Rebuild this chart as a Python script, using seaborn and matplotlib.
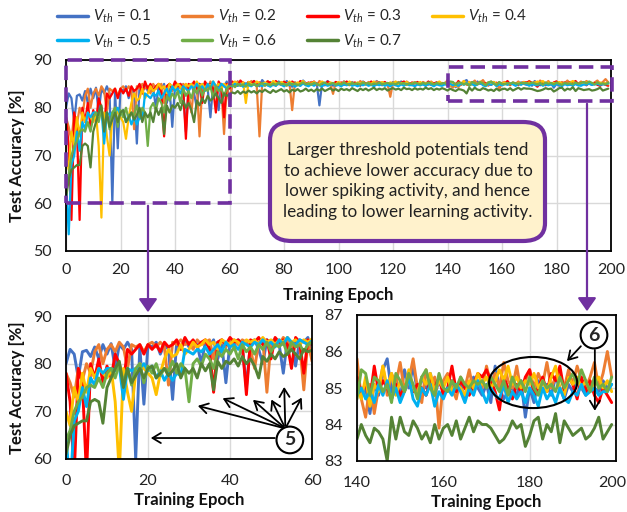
import matplotlib
matplotlib.use("Agg")
import matplotlib.pyplot as plt
import matplotlib.transforms as mtransforms
import seaborn as sns
import pandas as pd
import numpy as np
from matplotlib.patches import Rectangle, FancyBboxPatch, FancyArrowPatch, Ellipse

# ---------------- data ----------------
epochs = list(range(200))
thresholds = ["0.1", "0.2", "0.3", "0.4", "0.5", "0.6", "0.7"]
colors = ["#4472C4", "#ED7D31", "#FF0000", "#FFC000", "#00B0F0", "#70AD47", "#548235"]

v01 = [80.0, 83.0, 82.0, 77.0, 82.5, 82.8, 81.5, 83.5, 81.0, 84.0,
       82.0, 84.2, 79.0, 84.0, 83.0, 84.5, 83.0, 60.0, 83.5, 71.5,
       84.0, 83.5, 84.5, 82.0, 84.0, 83.0, 72.5, 84.5, 83.0, 85.0,
       83.5, 84.5, 84.0, 80.0, 84.5, 83.5, 85.0, 81.0, 84.0, 76.0,
       84.5, 84.0, 85.0, 83.5, 75.0, 84.5, 85.0, 83.0, 80.0, 85.0,
       84.5, 85.2, 84.0, 78.0, 85.0, 84.5, 79.5, 85.0, 84.5, 85.5,
       81.0, 85.0, 84.5, 85.5, 84.8, 85.2, 84.6, 85.4, 84.9, 85.6,
       85.0, 84.5, 85.8, 85.1, 84.7, 85.4, 85.0, 84.6, 85.5, 85.2,
       84.8, 85.6, 85.0, 84.4, 85.3, 85.0, 84.7, 85.7, 85.1, 84.9,
       85.4, 84.8, 85.2, 80.5, 85.3, 84.9, 85.6, 85.0, 84.6, 85.3,
       85.0, 84.7, 85.5, 85.1, 84.8, 85.4, 84.9, 85.2, 84.6, 85.5,
       85.0, 84.8, 85.3, 84.9, 85.6, 85.1, 84.7, 85.2, 85.0, 84.8,
       85.4, 84.9, 85.1, 85.5, 84.8, 85.2, 85.0, 84.7, 85.3, 84.9,
       85.2, 85.0, 84.6, 85.4, 85.1, 84.9, 85.3, 85.0, 84.8, 85.2,
       85.2, 84.8, 85.0, 84.3, 85.1, 84.8, 85.5, 85.8, 84.9, 85.3,
       84.7, 85.5, 85.0, 85.6, 84.9, 85.3, 85.0, 85.4, 84.8, 85.2,
       84.9, 85.0, 85.2, 84.9, 85.1, 84.7, 85.0, 85.3, 85.0, 84.8,
       85.1, 84.6, 85.6, 85.0, 84.7, 84.9, 85.0, 84.8, 85.2, 84.2,
       85.0, 84.6, 85.2, 84.9, 85.1, 84.8, 85.3, 85.0, 84.7, 85.1,
       84.9, 85.2, 85.0, 84.8, 85.1, 85.0, 84.9, 85.2, 85.0, 85.1]

v02 = [78.0, 76.0, 73.0, 79.0, 76.5, 80.0, 78.0, 82.5, 84.0, 80.0,
       83.0, 84.0, 82.5, 84.5, 83.5, 79.0, 84.0, 83.5, 84.0, 82.5,
       84.0, 84.5, 83.5, 84.5, 83.5, 75.5, 84.5, 84.0, 85.0, 84.0,
       84.5, 83.0, 85.0, 84.0, 84.5, 85.0, 81.0, 84.5, 85.0, 83.5,
       84.5, 85.0, 84.0, 85.0, 84.5, 83.0, 79.0, 84.5, 85.0, 74.0,
       84.5, 85.0, 84.0, 85.5, 84.5, 83.5, 85.0, 84.0, 74.5, 85.0,
       80.5, 85.2, 84.8, 85.5, 84.6, 85.3, 85.0, 84.7, 85.6, 85.1,
       84.5, 74.0, 85.2, 84.9, 85.6, 85.0, 84.7, 85.4, 85.1, 84.8,
       85.5, 84.9, 85.2, 79.5, 85.3, 85.0, 84.6, 85.5, 85.1, 84.8,
       85.4, 85.0, 84.7, 85.6, 85.2, 84.9, 85.3, 85.0, 82.9, 85.4,
       85.1, 84.8, 85.5, 85.0, 84.7, 85.3, 85.1, 84.9, 85.6, 85.0,
       84.8, 85.4, 85.0, 84.7, 85.5, 85.2, 84.9, 85.1, 85.0, 82.3,
       85.3, 84.9, 85.4, 85.0, 84.8, 85.5, 85.1, 84.9, 85.3, 85.0,
       84.7, 85.4, 85.1, 84.8, 85.5, 85.0, 84.9, 85.3, 85.1, 85.0,
       85.8, 84.7, 84.2, 85.1, 84.3, 85.0, 85.6, 84.8, 85.4, 85.1,
       85.7, 84.9, 85.2, 85.8, 85.0, 84.6, 85.5, 85.0, 85.3, 83.9,
       85.2, 85.4, 85.0, 84.7, 85.3, 85.0, 85.5, 84.9, 85.2, 85.0,
       85.6, 85.1, 85.4, 85.0, 85.7, 85.2, 85.0, 85.6, 84.9, 85.2,
       85.5, 85.0, 85.4, 85.1, 85.7, 85.0, 85.3, 85.4, 85.0, 85.5,
       85.1, 85.6, 85.2, 85.0, 85.3, 85.7, 85.0, 85.4, 86.0, 85.3]

v03 = [78.0, 72.0, 56.5, 79.0, 76.0, 56.5, 80.0, 77.0, 81.0, 76.0,
       79.5, 77.0, 82.0, 80.0, 76.0, 83.0, 82.0, 83.0, 84.0, 82.0,
       84.0, 83.0, 84.0, 82.5, 84.5, 83.5, 84.0, 85.0, 83.0, 85.5,
       84.0, 85.0, 83.5, 84.5, 85.0, 83.0, 74.0, 84.5, 85.0, 84.0,
       85.5, 84.5, 85.0, 84.0, 73.5, 85.0, 84.5, 85.5, 84.0, 85.0,
       81.0, 85.5, 84.5, 85.0, 84.0, 79.0, 85.5, 84.5, 78.0, 85.0,
       84.0, 85.5, 85.0, 84.6, 85.7, 85.1, 84.8, 85.4, 85.0, 85.6,
       84.9, 85.3, 85.0, 84.7, 85.5, 85.2, 84.8, 85.6, 85.0, 84.9,
       85.4, 85.1, 84.7, 85.5, 85.0, 84.8, 85.6, 85.2, 84.9, 85.3,
       85.0, 85.5, 84.8, 85.2, 85.0, 84.7, 85.5, 85.1, 84.9, 85.4,
       85.0, 85.3, 84.8, 85.5, 85.1, 84.9, 85.3, 85.0, 84.7, 85.4,
       85.1, 84.9, 85.5, 85.0, 84.8, 85.3, 85.1, 85.4, 84.9, 85.2,
       85.0, 85.4, 84.8, 85.2, 85.5, 85.0, 84.9, 85.3, 85.1, 85.4,
       84.9, 85.2, 85.0, 85.5, 84.8, 85.1, 85.3, 84.9, 85.2, 85.0,
       85.3, 84.9, 85.1, 84.7, 85.6, 84.9, 85.2, 85.0, 84.7, 85.1,
       84.8, 85.0, 85.3, 84.9, 85.1, 85.0, 84.8, 85.2, 85.0, 85.3,
       84.8, 85.0, 85.6, 84.9, 85.2, 85.0, 84.8, 85.1, 85.4, 85.3,
       85.5, 85.2, 84.9, 84.4, 85.3, 85.0, 84.7, 85.1, 84.9, 85.3,
       85.5, 84.8, 85.0, 85.3, 84.9, 85.4, 85.2, 85.6, 84.9, 85.3,
       85.1, 84.7, 85.3, 84.9, 85.2, 84.8, 84.6, 85.0, 84.8, 84.6]

v04 = [70.0, 67.0, 75.0, 72.0, 78.0, 74.0, 79.0, 77.0, 79.0, 78.0,
       77.0, 79.0, 72.0, 57.0, 79.0, 74.0, 70.0, 78.0, 80.0, 79.0,
       78.0, 77.0, 73.5, 78.0, 81.0, 83.0, 81.5, 82.0, 84.0, 82.0,
       83.0, 84.5, 83.5, 84.0, 85.0, 84.0, 84.5, 83.0, 85.0, 84.5,
       84.0, 85.0, 84.5, 83.5, 85.0, 84.5, 85.0, 84.0, 85.5, 84.5,
       85.0, 84.0, 85.0, 84.5, 85.5, 84.5, 85.0, 84.0, 85.0, 84.5,
       85.2, 84.8, 85.5, 85.0, 84.7, 85.3, 81.0, 85.4, 85.0, 84.8,
       85.5, 85.1, 84.9, 85.3, 85.0, 84.7, 85.6, 85.2, 84.9, 85.4,
       85.0, 84.8, 85.5, 85.1, 84.9, 85.3, 85.0, 85.6, 84.8, 85.2,
       85.0, 85.4, 84.9, 85.1, 85.5, 85.0, 84.8, 85.3, 85.1, 84.9,
       85.4, 85.0, 85.2, 84.8, 85.5, 85.1, 84.9, 85.3, 85.0, 85.4,
       84.9, 85.2, 85.0, 85.5, 84.8, 85.1, 85.4, 85.0, 84.9, 85.3,
       85.1, 85.5, 84.9, 85.2, 85.0, 85.4, 84.8, 85.1, 85.3, 85.0,
       85.4, 84.9, 85.2, 85.0, 85.3, 84.8, 85.1, 85.5, 85.0, 85.2,
       85.0, 84.7, 85.3, 84.5, 85.1, 84.9, 85.6, 85.0, 85.4, 84.8,
       85.2, 84.9, 85.5, 85.0, 84.8, 85.3, 85.1, 85.4, 84.9, 85.2,
       85.0, 85.3, 84.9, 85.1, 85.0, 84.8, 85.2, 85.0, 85.4, 85.1,
       85.3, 85.0, 85.2, 85.5, 85.2, 85.6, 85.1, 85.3, 85.0, 85.2,
       85.1, 85.4, 85.0, 85.2, 84.9, 85.3, 85.6, 85.0, 84.8, 85.3,
       85.1, 85.3, 85.0, 85.2, 84.9, 85.1, 85.3, 85.0, 85.2, 84.9]

v05 = [65.0, 53.5, 68.0, 70.0, 75.0, 71.0, 77.0, 75.5, 79.0, 78.0,
       79.0, 79.0, 78.5, 79.5, 72.5, 79.0, 78.5, 79.0, 79.0, 80.0,
       78.5, 79.5, 77.0, 78.5, 76.5, 78.0, 76.5, 78.0, 77.5, 83.0,
       82.5, 82.0, 83.0, 82.5, 83.5, 82.0, 83.0, 84.0, 82.5, 84.5,
       83.5, 84.0, 83.0, 84.5, 84.0, 83.5, 84.5, 84.0, 85.0, 84.0,
       84.5, 83.5, 85.0, 84.0, 85.5, 84.5, 84.0, 85.0, 84.5, 84.0,
       84.8, 84.5, 85.0, 84.6, 84.9, 84.4, 85.1, 84.7, 84.5, 85.0,
       84.6, 84.9, 84.5, 85.0, 84.7, 84.4, 84.9, 84.6, 85.1, 84.8,
       84.5, 84.9, 84.7, 85.0, 84.4, 84.8, 84.6, 85.1, 84.7, 84.5,
       84.9, 84.6, 85.0, 84.7, 84.5, 84.9, 84.6, 84.8, 85.0, 84.6,
       84.8, 84.5, 84.9, 84.7, 85.0, 84.6, 84.8, 84.5, 84.9, 84.7,
       85.0, 84.6, 84.8, 84.5, 84.9, 84.7, 85.0, 84.6, 84.8, 84.5,
       84.9, 84.7, 84.5, 84.9, 84.6, 85.0, 84.7, 84.8, 84.5, 84.9,
       84.7, 84.9, 84.6, 85.0, 84.8, 84.5, 84.9, 84.7, 84.6, 84.9,
       84.8, 85.0, 84.7, 84.9, 84.6, 85.1, 84.8, 85.2, 84.7, 85.0,
       84.6, 84.9, 85.3, 84.7, 84.5, 85.0, 84.8, 85.1, 84.5, 84.9,
       84.7, 85.0, 84.8, 85.1, 84.9, 84.6, 85.0, 84.8, 85.2, 84.9,
       84.6, 85.0, 84.8, 84.7, 85.1, 84.6, 84.9, 84.7, 84.9, 84.6,
       85.0, 84.8, 84.5, 85.0, 84.7, 84.9, 84.6, 85.0, 84.7, 84.6,
       84.9, 84.8, 85.1, 84.8, 84.9, 85.0, 84.8, 84.9, 84.9, 85.1]

v06 = [64.0, 66.0, 70.0, 72.0, 73.0, 75.0, 75.5, 75.0, 77.0, 75.0,
       78.0, 79.0, 77.0, 80.0, 76.0, 79.0, 75.5, 79.0, 80.0, 76.0,
       79.5, 78.0, 80.0, 77.5, 79.0, 78.5, 80.5, 78.0, 80.0, 79.0,
       72.0, 80.0, 81.0, 79.5, 82.0, 81.0, 79.0, 82.5, 81.5, 83.0,
       82.0, 83.5, 81.0, 84.0, 82.5, 83.5, 82.0, 84.0, 83.0, 84.5,
       82.5, 84.0, 83.5, 84.5, 82.0, 84.5, 83.5, 84.0, 82.5, 84.0,
       84.5, 84.8, 84.3, 85.0, 84.6, 84.9, 84.4, 85.1, 84.7, 85.0,
       84.5, 84.9, 85.2, 84.6, 85.0, 84.7, 85.1, 84.8, 85.3, 84.9,
       85.0, 84.6, 85.2, 84.8, 85.1, 84.7, 85.0, 85.3, 84.9, 85.1,
       84.8, 85.2, 85.0, 84.7, 85.1, 85.3, 84.9, 85.0, 85.2, 84.8,
       85.1, 84.9, 85.3, 85.0, 84.8, 85.2, 85.0, 85.1, 84.9, 85.3,
       85.0, 85.2, 84.8, 85.1, 85.0, 85.3, 84.9, 85.1, 85.2, 85.0,
       85.1, 84.9, 85.3, 85.0, 85.2, 84.8, 85.1, 85.0, 85.3, 85.1,
       84.9, 85.2, 85.0, 85.3, 85.1, 84.9, 85.2, 85.0, 85.1, 85.2,
       84.7, 85.5, 85.4, 84.8, 85.3, 85.2, 84.9, 85.1, 84.6, 85.4,
       85.2, 84.9, 85.4, 85.1, 84.7, 85.3, 85.5, 85.0, 84.8, 85.4,
       85.0, 84.9, 85.2, 85.0, 85.3, 85.1, 85.0, 85.2, 85.1, 85.2,
       85.0, 85.3, 85.1, 84.9, 85.2, 84.8, 85.3, 85.0, 85.2, 84.9,
       85.3, 85.0, 84.8, 85.2, 85.0, 85.1, 84.9, 85.3, 85.0, 85.2,
       85.4, 85.1, 85.5, 85.2, 84.9, 85.3, 85.0, 85.1, 84.9, 85.3]

v07 = [61.0, 65.0, 67.0, 67.5, 68.0, 68.0, 72.0, 72.5, 72.0, 67.5,
       75.0, 77.0, 79.0, 80.5, 75.0, 79.0, 76.0, 77.5, 79.0, 77.0,
       79.0, 79.5, 77.0, 78.0, 79.0, 77.5, 78.5, 80.0, 77.0, 79.0,
       78.0, 79.0, 77.0, 80.0, 78.5, 80.0, 74.5, 80.5, 79.0, 80.5,
       80.0, 81.0, 79.5, 81.5, 80.0, 81.0, 79.5, 77.0, 81.5, 80.5,
       82.0, 81.0, 82.5, 81.5, 82.0, 83.0, 82.0, 81.0, 83.0, 82.5,
       82.8, 83.2, 83.0, 83.5, 82.9, 83.4, 83.1, 83.6, 83.2, 83.5,
       83.0, 83.6, 83.3, 83.8, 83.4, 83.1, 83.7, 83.3, 83.6, 83.9,
       83.4, 83.7, 83.2, 83.8, 83.5, 83.9, 83.4, 83.6, 84.0, 83.5,
       83.8, 83.4, 83.9, 83.6, 84.0, 83.5, 83.8, 84.1, 83.6, 83.9,
       83.5, 84.0, 83.7, 83.9, 83.6, 84.1, 83.8, 83.5, 84.0, 83.7,
       84.0, 83.6, 83.9, 84.2, 83.7, 84.0, 83.8, 84.1, 83.6, 83.9,
       84.1, 83.8, 84.0, 83.7, 84.2, 83.9, 84.0, 83.7, 84.1, 83.8,
       84.0, 83.8, 84.2, 83.9, 84.1, 83.7, 84.0, 83.8, 84.1, 83.9,
       83.6, 84.0, 83.7, 83.5, 83.9, 83.8, 83.6, 83.0, 84.2, 83.6,
       84.2, 83.8, 83.7, 84.1, 83.9, 83.6, 83.8, 83.5, 84.0, 83.6,
       83.9, 84.0, 83.7, 84.1, 83.6, 83.9, 84.2, 83.8, 84.1, 84.0,
       84.0, 83.9, 83.7, 83.5, 83.6, 83.8, 84.1, 83.9, 84.0, 83.4,
       83.7, 84.1, 84.2, 83.6, 84.0, 83.8, 84.3, 83.5, 84.1, 83.9,
       83.7, 83.8, 83.9, 83.6, 83.7, 83.9, 84.2, 83.6, 83.8, 84.0]

series = [v01, v02, v03, v04, v05, v06, v07]
labels = [r"$V_{th}$ = " + t for t in thresholds]

df = pd.DataFrame({
    "epoch": np.tile(epochs, len(series)),
    "acc": np.concatenate([np.array(s) for s in series]),
    "vth": np.repeat(labels, len(epochs)),
})

# ---------------- style ----------------
sns.set_theme(style="white")
plt.rcParams["font.family"] = ["Lato", "DejaVu Sans"]
plt.rcParams["mathtext.fontset"] = "custom"
plt.rcParams["mathtext.it"] = "Lato:italic"
plt.rcParams["mathtext.rm"] = "Lato"

W, H = 627, 512
fig = plt.figure(figsize=(W / 100, H / 100), dpi=100)
fig.patch.set_facecolor("white")

def box(l, t, r, b):
    return [l / W, 1 - b / H, (r - l) / W, (b - t) / H]

def fp(px, py):
    return (px / W, 1 - py / H)

ax = fig.add_axes(box(66, 60, 611, 251))
axl = fig.add_axes(box(66, 316, 312, 459))
axr = fig.add_axes(box(357, 315, 616, 461))

palette = dict(zip(labels, colors))
PURPLE = "#7030A0"
GRID = "#D9D9D9"

def style_axes(a, xlim, ylim, xt, yt, xpad, ypad, fs=11.5):
    a.set_xlim(*xlim)
    a.set_ylim(*ylim)
    a.set_xticks(xt)
    a.set_yticks(yt)
    a.grid(True, color=GRID, lw=1.0)
    a.set_axisbelow(True)
    for s in a.spines.values():
        s.set_color("black")
        s.set_linewidth(1.3)
    a.tick_params(axis="both", length=0, labelsize=fs, colors="#222222")
    a.tick_params(axis="x", pad=xpad)
    a.tick_params(axis="y", pad=ypad)

for a, lw in [(ax, 1.6), (axl, 2.1), (axr, 2.1)]:
    sns.lineplot(data=df, x="epoch", y="acc", hue="vth", palette=palette,
                 hue_order=labels, ax=a, lw=lw, legend=False, estimator=None)

style_axes(ax, (0, 200), (50, 90), range(0, 201, 20), range(50, 91, 10), 8.5, 10)
style_axes(axl, (0, 60), (60, 90), range(0, 61, 20), range(60, 91, 10), 11, 10)
style_axes(axr, (140, 200), (83, 87), range(140, 201, 20), range(83, 88, 1), 11, 10)

# nudge the last x tick label of the right inset so it stays inside the figure
last = axr.get_xticklabels()[-1]
last.set_transform(last.get_transform() +
                   mtransforms.ScaledTranslation(-4 / 100, 0, fig.dpi_scale_trans))

lab_kw = dict(fontsize=12, fontweight="bold", color="#111111")
ax.set_xlabel("Training Epoch", labelpad=7, **lab_kw)
ax.set_ylabel("Test Accuracy [%]", labelpad=6, **lab_kw)
axl.set_xlabel("Training Epoch", labelpad=3, **lab_kw)
axl.set_ylabel("Test Accuracy [%]", labelpad=6, **lab_kw)
axr.set_xlabel("Training Epoch", labelpad=3, **lab_kw)
axr.set_ylabel("")

# ---------------- legend (row-major order) ----------------
handles = [plt.Line2D([], [], color=c, lw=2.5) for c in colors]
order = [0, 4, 1, 5, 2, 6, 3]
fig.legend([handles[i] for i in order], [labels[i] for i in order],
           loc="upper left", bbox_to_anchor=(57 / W, 1 - 8 / H),
           ncol=4, frameon=False, fontsize=11, handlelength=2.0,
           handletextpad=0.35, columnspacing=2.0, labelspacing=0.45,
           borderpad=0, borderaxespad=0)

# ---------------- purple zoom boxes ----------------
ax.add_patch(Rectangle((0, 60), 60, 30, fill=False, ec=PURPLE, lw=2.6,
                       ls=(0, (4, 2)), clip_on=False, zorder=5))
ax.add_patch(Rectangle((140, 81.5), 60.3, 7.0, fill=False, ec=PURPLE, lw=2.6,
                       ls=(0, (4, 2)), clip_on=False, zorder=5))

for (x0, y0, y1) in [(148, 203, 315), (587, 101, 314)]:
    fig.add_artist(FancyArrowPatch(fp(x0, y0), fp(x0, y1), transform=fig.transFigure,
                                   arrowstyle="-|>,head_length=5,head_width=3.5",
                                   color=PURPLE, lw=1.6, mutation_scale=1.6))

# ---------------- text box ----------------
fig.add_artist(FancyBboxPatch((270 / W, 1 - 241 / H), 275 / W, 119 / H,
                              boxstyle="round,pad=0,rounding_size=0.035",
                              transform=fig.transFigure, fc="#FFF2CC",
                              ec=PURPLE, lw=3.0, zorder=6))
fig.text(408 / W, 1 - 181 / H,
         "Larger threshold potentials tend\nto achieve lower accuracy due to\n"
         "lower spiking activity, and hence\nleading to lower learning activity.",
         ha="center", va="center", fontsize=12.3, color="#222222",
         linespacing=1.35, zorder=7)

# ---------------- annotation "5" ----------------
circ_kw = dict(boxstyle="circle,pad=0.25", fc="white", ec="black", lw=1.5)
axl.text(54.6, 64.0, "5", ha="center", va="center", fontsize=14,
         fontweight="bold", bbox=circ_kw, zorder=10)
arrow_kw = dict(arrowstyle="->,head_length=0.5,head_width=0.3", color="black", lw=1.3)
for (tx, ty) in [(31.5, 71.3), (37.6, 73.0), (45.1, 72.8), (49.8, 73.0),
                 (53.2, 75.7), (57.8, 73.4)]:
    axl.annotate("", xy=(tx, ty), xytext=(53.5, 66.4), arrowprops=arrow_kw, zorder=9)
axl.annotate("", xy=(20.0, 64.4), xytext=(51.6, 64.4), arrowprops=arrow_kw, zorder=9)

# ---------------- annotation "6" ----------------
axr.add_patch(Ellipse((180.8, 85.15), 20.4, 1.4, fill=False, ec="black", lw=1.5, zorder=9))
axr.text(194.9, 86.45, "6", ha="center", va="center", fontsize=14,
         fontweight="bold", bbox=circ_kw, zorder=10)
axr.annotate("", xy=(188.2, 85.68), xytext=(192.3, 86.2), arrowprops=arrow_kw, zorder=9)
axr.annotate("", xy=(195.1, 84.3), xytext=(195.1, 86.12), arrowprops=arrow_kw, zorder=9)

fig.savefig("out.png", dpi=100, facecolor="white")
